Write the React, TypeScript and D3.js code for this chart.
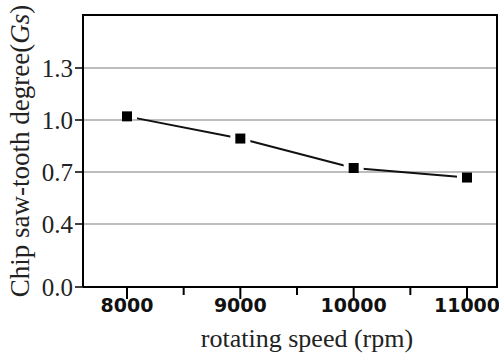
import React from "react";
import * as d3 from "d3";

const speeds = [8000, 9000, 10000, 11000];
const gsValues = [1.021, 0.893, 0.723, 0.668];
const yTicks = [0.0, 0.4, 0.7, 1.0, 1.3];
const gridTicks = [0.4, 0.7, 1.0, 1.3];
const xTicks = [8000, 9000, 10000, 11000];
const xMinorTicks = [8500, 9500, 10500];

const SERIF = "'Liberation Serif'";

const width = 499;
const height = 355;
const left = 83;
const right = 497;
const top = 15;
const bottom = 287;

const App = () => {
    const x = d3.scaleLinear().domain([8000, 11000]).range([127, 467]);
    // the printed axis is not quite even below 0.4
    const y = d3.scaleLinear().domain([0, 0.4, 1.6]).range([bottom, 224, top + 1]);

    const pts = speeds.map((s, i) => [s, gsValues[i]] as [number, number]);
    const line = d3.line<[number, number]>()
        .x((d) => x(d[0]))
        .y((d) => y(d[1]));

    return (
        <div style={{ position: "absolute", left: 0, top: 0 }}>
            <svg width={width} height={height} viewBox={`0 0 ${width} ${height}`} style={{ display: "block" }}>
                <rect x={0} y={0} width={width} height={height} fill="#fff" />
                <defs>
                    <mask id="gapMask">
                        <rect x={0} y={0} width={width} height={height} fill="#fff" />
                        {pts.map((d, i) => (
                            <rect key={i} x={x(d[0]) - 10} y={y(d[1]) - 10} width={20} height={20} fill="#000" />
                        ))}
                    </mask>
                </defs>

                {gridTicks.map((t) => (
                    <line key={t} x1={left} x2={right} y1={y(t)} y2={y(t)} stroke="#bdbdbd" strokeWidth={2} />
                ))}

                <path
                    d={`M${left},${bottom}V${top}H${right}V${bottom}H${left}`}
                    fill="none"
                    stroke="#000"
                    strokeWidth={2}
                />

                {yTicks.map((t) => (
                    <g key={t}>
                        <line x1={75} x2={left} y1={y(t)} y2={y(t)} stroke="#000" strokeWidth={1.5} />
                        <text
                            x={73}
                            y={y(t)}
                            dy="0.35em"
                            textAnchor="end"
                            fill="#222"
                            style={{ fontFamily: SERIF, fontSize: 25 }}
                        >
                            {t.toFixed(1)}
                        </text>
                    </g>
                ))}

                {xTicks.map((t) => (
                    <g key={t}>
                        <line x1={x(t)} x2={x(t)} y1={bottom} y2={bottom + 12} stroke="#000" strokeWidth={2} />
                        <text
                            x={x(t)}
                            y={312}
                            textAnchor="middle"
                            fill="#111"
                            style={{ fontFamily: "'DejaVu Sans'", fontWeight: "bold", fontSize: 19 }}
                        >
                            {t}
                        </text>
                    </g>
                ))}
                {xMinorTicks.map((t) => (
                    <line key={t} x1={x(t)} x2={x(t)} y1={bottom} y2={bottom + 8} stroke="#000" strokeWidth={2} />
                ))}

                <text
                    x={307}
                    y={347}
                    textAnchor="middle"
                    fill="#222"
                    style={{ fontFamily: SERIF, fontSize: 26 }}
                >
                    rotating speed (rpm)
                </text>
                <text
                    transform="translate(29,151) rotate(-90)"
                    textAnchor="middle"
                    fill="#222"
                    style={{ fontFamily: SERIF, fontSize: 27 }}
                >
                    Chip saw-tooth degree(<tspan style={{ fontStyle: "italic" }}>Gs</tspan>)
                </text>

                <path d={line(pts) ?? ""} fill="none" stroke="#111" strokeWidth={2} mask="url(#gapMask)" />
                {pts.map((d, i) => (
                    <rect key={i} x={x(d[0]) - 5} y={y(d[1]) - 5} width={10} height={10} fill="#000" />
                ))}
            </svg>
        </div>
    );
};

export default App;
